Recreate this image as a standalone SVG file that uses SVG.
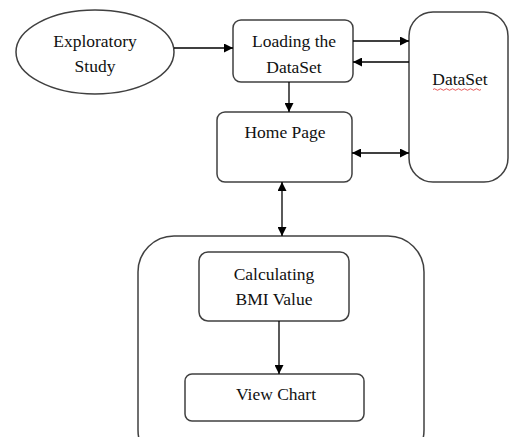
<svg xmlns="http://www.w3.org/2000/svg" width="509" height="437" viewBox="0 0 509 437">
<style>
.box{fill:#fff;stroke:#404040;stroke-width:1.5}
.t{font-family:"Liberation Serif","Times New Roman",serif;font-size:17.5px;fill:#111;text-anchor:middle}
.c{stroke:#000;stroke-width:1.3;fill:none}
</style>
<defs>
<marker id="ah" viewBox="0 0 10 10" refX="10" refY="5" markerWidth="10" markerHeight="9" markerUnits="userSpaceOnUse" orient="auto-start-reverse">
<path d="M0,0 L10,5 L0,10 Z" fill="#000"/>
</marker>
</defs>
<rect width="509" height="437" fill="#fff"/>
<g id="container">
<rect class="box" x="138" y="236" width="286" height="230" rx="36" ry="36"/>
</g>
<g id="exploratory">
<ellipse class="box" cx="95" cy="52" rx="79" ry="42"/>
<text class="t" x="95" y="47">Exploratory</text>
<text class="t" x="95" y="72">Study</text>
</g>
<g id="loading">
<rect class="box" x="233" y="20" width="120" height="62" rx="8" ry="8"/>
<text class="t" x="294" y="47">Loading the</text>
<text class="t" x="294" y="73">DataSet</text>
</g>
<g id="dataset">
<rect class="box" x="409" y="12" width="99" height="170" rx="24" ry="24"/>
<text class="t" x="460" y="85">DataSet</text>
<path d="M433,89.5 q1.5,-1.5 3,0 t3,0 t3,0 t3,0 t3,0 t3,0 t3,0 t3,0 t3,0 t3,0 t3,0 t3,0 t3,0 t3,0 t3,0 t3,0" fill="none" stroke="#e03030" stroke-width="0.8"/>
</g>
<g id="home">
<rect class="box" x="217" y="112" width="135" height="70" rx="8" ry="8"/>
<text class="t" x="285" y="138">Home Page</text>
</g>
<g id="calc">
<rect class="box" x="199" y="252" width="150" height="69" rx="9" ry="9"/>
<text class="t" x="274" y="280">Calculating</text>
<text class="t" x="274" y="305">BMI Value</text>
</g>
<g id="chart">
<rect class="box" x="185" y="374" width="179" height="47" rx="7" ry="7"/>
<text class="t" x="276" y="400">View Chart</text>
</g>
<g id="connectors">
<line class="c" x1="174" y1="48" x2="233" y2="48" marker-end="url(#ah)"/>
<line class="c" x1="353" y1="41" x2="409" y2="41" marker-end="url(#ah)"/>
<line class="c" x1="409" y1="62" x2="353" y2="62" marker-end="url(#ah)"/>
<line class="c" x1="289" y1="82" x2="289" y2="112" marker-end="url(#ah)"/>
<line class="c" x1="352" y1="153" x2="409" y2="153" marker-start="url(#ah)" marker-end="url(#ah)"/>
<line class="c" x1="282" y1="182" x2="282" y2="236" marker-start="url(#ah)" marker-end="url(#ah)"/>
<line class="c" x1="279" y1="321" x2="279" y2="374" marker-end="url(#ah)"/>
</g>
</svg>
